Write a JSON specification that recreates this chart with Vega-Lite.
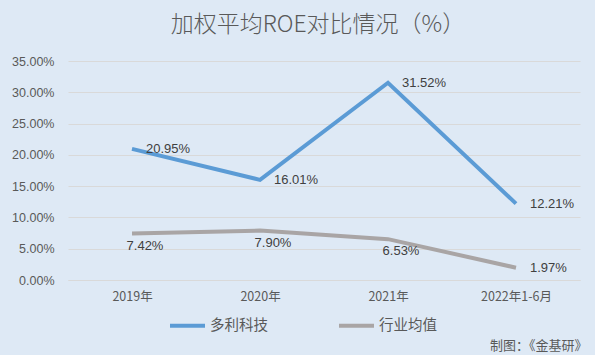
{
  "$schema": "https://vega.github.io/schema/vega-lite/v6.json",
  "width": 512,
  "height": 219,
  "autosize": {"type": "none"},
  "padding": {"left": 68, "top": 61, "right": 15, "bottom": 75},
  "background": "#dee9f5",
  "title": {
    "text": "加权平均ROE对比情况（%）",
    "font": "Noto Sans CJK SC",
    "fontSize": 23,
    "fontWeight": 300,
    "color": "#595959",
    "anchor": "middle",
    "offset": 18,
    "dx": -6
  },
  "config": {
    "view": {"stroke": null},
    "font": "Noto Sans CJK SC"
  },
  "data": {
    "values": [
      {"year": "2019年", "series": "多利科技", "value": 0.2095},
      {"year": "2020年", "series": "多利科技", "value": 0.1601},
      {"year": "2021年", "series": "多利科技", "value": 0.3152},
      {"year": "2022年1-6月", "series": "多利科技", "value": 0.1221},
      {"year": "2019年", "series": "行业均值", "value": 0.0742},
      {"year": "2020年", "series": "行业均值", "value": 0.0790},
      {"year": "2021年", "series": "行业均值", "value": 0.0653},
      {"year": "2022年1-6月", "series": "行业均值", "value": 0.0197}
    ]
  },
  "encoding": {
    "x": {
      "field": "year",
      "type": "ordinal",
      "sort": null,
      "scale": {"type": "point", "padding": 0.5},
      "axis": {
        "title": "制图：《金基研》",
        "titleX": 519,
        "titleY": 65,
        "titleAlign": "right",
        "titleAnchor": null,
        "titleBaseline": "middle",
        "titleFontSize": 13,
        "titleFontWeight": "normal",
        "titleColor": "#595959",
        "labelAngle": 0,
        "labelFontSize": 12.5,
        "labelColor": "#595959",
        "labelPadding": 10,
        "ticks": false,
        "domain": true,
        "domainColor": "#d9d9d9",
        "grid": false
      }
    },
    "y": {
      "field": "value",
      "type": "quantitative",
      "scale": {"domain": [0, 0.35]},
      "axis": {
        "title": null,
        "format": ".2%",
        "values": [0, 0.05, 0.1, 0.15, 0.2, 0.25, 0.3, 0.35],
        "labelFontSize": 12.5,
        "labelFont": "Liberation Sans",
        "labelColor": "#595959",
        "labelPadding": 14,
        "ticks": false,
        "domain": false,
        "grid": true,
        "gridColor": "#d9d9d9",
        "gridWidth": 1
      }
    }
  },
  "layer": [
    {
      "mark": {"type": "line", "strokeWidth": 4},
      "encoding": {
        "color": {
          "field": "series",
          "type": "nominal",
          "scale": {"domain": ["多利科技", "行业均值"], "range": ["#5b9bd5", "#a9a5a5"]},
          "legend": {
            "title": null,
            "orient": "none",
            "direction": "horizontal",
            "legendX": 100,
            "legendY": 245,
            "symbolType": "stroke",
            "symbolSize": 1225,
            "symbolStrokeWidth": 4,
            "labelFontSize": 14.5,
            "labelColor": "#595959",
            "labelOffset": 3,
            "columnPadding": 63
          }
        }
      }
    },
    {
      "transform": [{"filter": "datum.series == '多利科技' || datum.year == '2022年1-6月'"}],
      "mark": {"type": "text", "align": "left", "baseline": "middle", "dx": 14, "fontSize": 13, "font": "Liberation Sans", "color": "#404040"},
      "encoding": {"text": {"field": "value", "type": "quantitative", "format": ".2%"}}
    },
    {
      "transform": [{"filter": "datum.series == '行业均值' && datum.year != '2022年1-6月'"}],
      "mark": {"type": "text", "align": "center", "baseline": "middle", "dx": 13, "dy": 12, "fontSize": 13, "font": "Liberation Sans", "color": "#404040"},
      "encoding": {"text": {"field": "value", "type": "quantitative", "format": ".2%"}}
    }
  ]
}
